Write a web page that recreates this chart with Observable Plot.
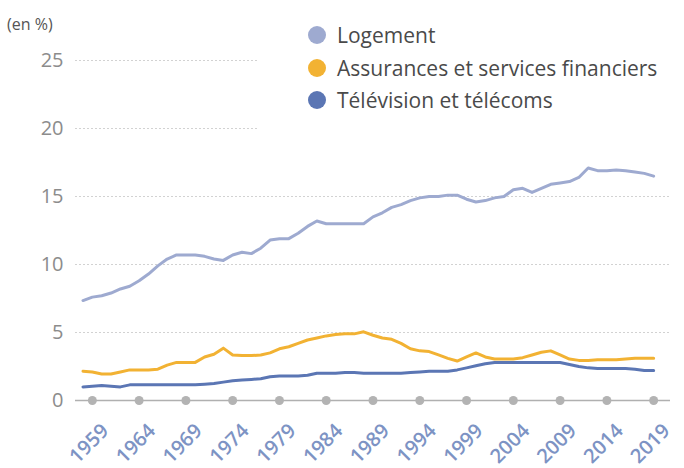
<!DOCTYPE html>
<html><head><meta charset="utf-8">
<script src="https://cdn.jsdelivr.net/npm/d3@7"></script>
<script src="https://cdn.jsdelivr.net/npm/@observablehq/plot@0.6"></script>
<style>
body{margin:0;background:#fff;font-family:"Open Sans",sans-serif;}
#wrap{position:relative;width:684px;height:468px;}
#unit{position:absolute;left:7px;top:13px;font-size:16px;color:#555;}
#legend{position:absolute;left:258px;top:12px;width:426px;height:122px;background:#fff;}
.row{position:absolute;left:50px;height:24px;display:flex;align-items:center;font-size:21px;color:#4a4a4a;white-space:nowrap;}
.dot{width:18px;height:18px;border-radius:50%;margin-right:11px;flex:none;}
</style></head>
<body><div id="wrap"><div id="chart"></div><div id="unit">(en %)</div><div id="legend"></div></div>
<script>
const years = d3.range(1958, 2020);
const seriesNames = ["Logement", "Assurances et services financiers", "Télévision et télécoms"];
const seriesColors = ["#9eaad0", "#f2b233", "#5b76b4"];
const logement = [7.35,7.6,7.7,7.9,8.2,8.4,8.8,9.3,9.9,10.4,10.7,10.7,10.7,10.6,10.4,10.3,10.7,10.9,10.8,11.2,11.8,11.9,11.9,12.3,12.8,13.2,13.0,13.0,13.0,13.0,13.0,13.5,13.8,14.2,14.4,14.7,14.9,15.0,15.0,15.1,15.1,14.8,14.6,14.7,14.9,15.0,15.5,15.6,15.3,15.6,15.9,16.0,16.1,16.4,17.1,16.9,16.9,16.95,16.9,16.8,16.7,16.5];
const assurances = [2.15,2.1,1.95,1.95,2.1,2.25,2.25,2.25,2.3,2.6,2.8,2.8,2.8,3.2,3.4,3.85,3.35,3.3,3.3,3.35,3.5,3.8,3.95,4.2,4.45,4.6,4.75,4.85,4.9,4.9,5.05,4.8,4.6,4.5,4.2,3.8,3.65,3.6,3.35,3.1,2.9,3.2,3.5,3.2,3.05,3.05,3.05,3.15,3.35,3.55,3.65,3.35,3.05,2.95,2.95,3.0,3.0,3.0,3.05,3.1,3.1,3.1];
const television = [1.0,1.05,1.1,1.05,1.0,1.15,1.15,1.15,1.15,1.15,1.15,1.15,1.15,1.2,1.25,1.35,1.45,1.5,1.55,1.6,1.75,1.8,1.8,1.8,1.85,2.0,2.0,2.0,2.05,2.05,2.0,2.0,2.0,2.0,2.0,2.05,2.1,2.15,2.15,2.15,2.25,2.4,2.55,2.7,2.8,2.8,2.8,2.8,2.8,2.8,2.8,2.8,2.65,2.5,2.4,2.35,2.35,2.35,2.35,2.3,2.2,2.2];
const xTicks = [1959,1964,1969,1974,1979,1984,1989,1994,1999,2004,2009,2014,2019];
const yTicks = [0,5,10,15,20,25];

const values = [logement, assurances, television];
const data = [];
seriesNames.forEach((s, i) => years.forEach((y, j) => data.push({year: y, value: values[i][j], series: s})));

const chart = Plot.plot({
  width: 684, height: 468,
  marginTop: 60, marginBottom: 68, marginLeft: 75, marginRight: 14,
  style: {fontFamily: "Open Sans", background: "#fff"},
  x: {domain: [1957.2, 2020.8], axis: null},
  y: {domain: [0, 25], ticks: yTicks, tickSize: 0, tickPadding: 12, label: null, tickFormat: d => d},
  color: {domain: seriesNames, range: seriesColors},
  marks: [
    Plot.ruleY(yTicks.filter(d => d > 0), {stroke: "#d2d2d2", strokeDasharray: "2,2", strokeWidth: 1.2}),
    Plot.axisY({ticks: yTicks, tickSize: 0, tickPadding: 12, fontSize: 20, fill: "#8c8c8c", label: null}),
    Plot.ruleY([0], {stroke: "#b0b0b0", strokeWidth: 1.5}),
    Plot.dot(xTicks, {x: d => d, y: 0, r: 4.5, fill: "#b3b3b3"}),
    Plot.text(xTicks, {x: d => d, y: 0, text: d => String(d), rotate: -45, textAnchor: "end", dx: 13, dy: 27, fontSize: 20, fontWeight: 600, fill: "#7d93c4"}),
    Plot.line(data, {x: "year", y: "value", z: "series", stroke: "series", strokeWidth: 3, curve: "linear"})
  ]
});
document.getElementById("chart").appendChild(chart);

const legend = document.getElementById("legend");
const tops = [11, 44, 76];
seriesNames.forEach((s, i) => {
  const row = document.createElement("div");
  row.className = "row";
  row.style.top = tops[i] + "px";
  row.innerHTML = `<span class="dot" style="background:${seriesColors[i]}"></span><span>${s}</span>`;
  legend.appendChild(row);
});
</script></body></html>
